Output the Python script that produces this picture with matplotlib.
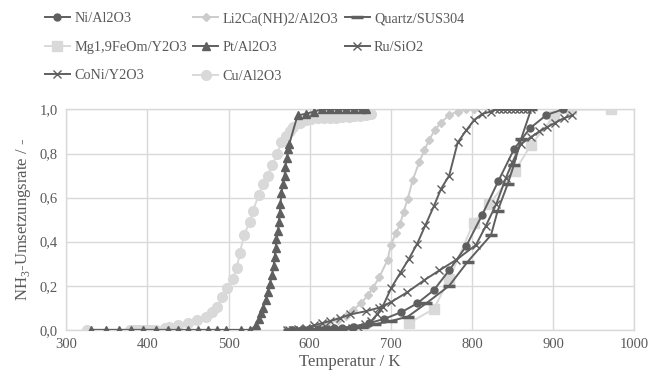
import matplotlib
matplotlib.use("Agg")
import matplotlib.pyplot as plt
from matplotlib.ticker import FuncFormatter, MultipleLocator

plt.rcParams['font.family'] = ['Liberation Serif', 'DejaVu Serif']
plt.rcParams['mathtext.fontset'] = 'custom'
plt.rcParams['mathtext.rm'] = 'Liberation Serif'

# ---- data ----
ni_T = [578, 590, 600, 610, 620, 630, 640, 653, 673, 692, 713, 732.5, 753, 772, 793, 812.5, 832.6, 852, 871.7, 892, 912]
ni_v = [0, 0, 0, 0.005, 0.005, 0.01, 0.01, 0.015, 0.03, 0.05, 0.08, 0.12, 0.18, 0.27, 0.38, 0.52, 0.675, 0.82, 0.915, 0.975, 1.0]

li_T = [575, 590, 605, 620, 635, 645, 653, 663.5, 671.7, 678, 686, 696, 700, 706.6, 711.6, 715.7, 721, 727, 735, 741.5, 747, 754, 762, 772, 782.5, 793, 803]
li_v = [0, 0.005, 0.01, 0.025, 0.045, 0.065, 0.09, 0.12, 0.158, 0.19, 0.24, 0.317, 0.385, 0.44, 0.48, 0.535, 0.595, 0.68, 0.76, 0.815, 0.86, 0.905, 0.94, 0.975, 0.99, 1.0, 1.0]

qz_T = [575, 590, 605, 620, 635, 650, 665, 680, 700, 721, 743.6, 772, 795, 823.6, 831.8, 844, 852, 860.6, 873]
qz_v = [0, 0, 0, 0, 0.005, 0.01, 0.015, 0.025, 0.04, 0.06, 0.12, 0.2, 0.31, 0.43, 0.54, 0.66, 0.75, 0.865, 1.0]

mg_T = [722, 753, 772, 802, 821.5, 853, 873, 901.6, 922, 971.4]
mg_v = [0.03, 0.095, 0.23, 0.485, 0.57, 0.72, 0.84, 0.97, 1.0, 1.0]

pt_T = [330, 349, 365, 380, 395, 410, 425, 437, 450, 462, 474, 486, 497, 515, 527,
        534, 538, 540, 542, 545.7, 548.5, 551, 553.5, 555.5, 556.8, 558, 559, 561, 562, 563, 564, 565,
        567, 569, 570, 572, 573.6, 575, 585, 595, 605, 615, 625, 635, 645, 655, 665, 670]
pt_v = [0, 0, 0, 0, 0, 0, 0, 0, 0, 0, 0, 0, 0, 0, 0,
        0.02, 0.05, 0.075, 0.1, 0.135, 0.17, 0.21, 0.25, 0.29, 0.33, 0.37, 0.41, 0.45, 0.49, 0.53, 0.57, 0.62,
        0.66, 0.70, 0.74, 0.78, 0.82, 0.845, 0.973, 0.98, 0.99, 1.0, 1.0, 1.0, 1.0, 1.0, 1.0, 1.0]

ru_T = [572, 580, 588, 596, 604, 612, 620, 628, 636, 644, 652, 660, 668, 676, 683, 690, 700.5, 712, 722,
        732.5, 742.7, 753, 762, 772, 782.5, 793, 803, 813, 823, 828, 833, 838, 843, 848, 853, 858, 863, 868, 873]
ru_v = [0, 0, 0, 0, 0, 0, 0, 0.005, 0.005, 0.005, 0.01, 0.015, 0.025, 0.04, 0.07, 0.105, 0.19, 0.26, 0.32,
        0.39, 0.475, 0.56, 0.64, 0.70, 0.85, 0.905, 0.953, 0.98, 0.99, 1, 1, 1, 1, 1, 1, 1, 1, 1, 1]

coni_T = [575, 585, 595, 605, 615, 625, 637, 650, 670, 685, 700, 720, 741.5, 760, 780.5, 805, 817, 830, 842,
          850, 860.6, 873, 883, 893, 903, 913, 924]
coni_v = [0, 0.005, 0.01, 0.02, 0.03, 0.04, 0.053, 0.07, 0.085, 0.1, 0.125, 0.17, 0.226, 0.27, 0.317, 0.385,
          0.47, 0.57, 0.69, 0.76, 0.845, 0.875, 0.9, 0.92, 0.94, 0.96, 0.973]

cu_T = [325, 378, 382, 386, 390, 394, 398, 402, 406, 410, 421, 426, 437, 450, 461, 472, 480, 486, 492, 498,
        505, 510, 514, 519, 526, 530, 537, 542, 548, 554, 560, 565, 571, 576, 580, 588, 595, 602, 610, 618,
        625, 632, 640, 648, 655, 662, 670, 676]
cu_v = [0, 0, 0, 0, 0, 0, 0, 0, 0, 0, 0.01, 0.015, 0.02, 0.03, 0.045, 0.06, 0.08, 0.105, 0.15, 0.19,
        0.23, 0.28, 0.35, 0.43, 0.49, 0.54, 0.61, 0.66, 0.70, 0.75, 0.80, 0.85, 0.88, 0.90, 0.92, 0.94,
        0.95, 0.955, 0.96, 0.96, 0.96, 0.96, 0.965, 0.965, 0.97, 0.97, 0.975, 0.98]

dark = '#5f5f5f'
light = '#d9d9d9'
mid = '#cccccc'
txt = '#595959'

fig = plt.figure(figsize=(6.51, 3.80), dpi=100)
ax = fig.add_axes([0.102, 0.132, 0.872, 0.580])

h = {}
h['Ni'], = ax.plot(ni_T, ni_v, color=dark, lw=1.4, marker='o', ms=5, label='Ni/Al2O3', zorder=4)
h['Li'], = ax.plot(li_T, li_v, color=mid, lw=1.4, marker='D', ms=4.5, label='Li2Ca(NH)2/Al2O3', zorder=3)
h['Qz'], = ax.plot(qz_T, qz_v, color=dark, lw=1.4, marker='_', ms=9, mew=2.5, label='Quartz/SUS304', zorder=4)
h['Mg'], = ax.plot(mg_T, mg_v, color=light, lw=1.4, marker='s', ms=6.5, label='Mg1,9FeOm/Y2O3', zorder=2)
h['Pt'], = ax.plot(pt_T, pt_v, color=dark, lw=1.4, marker='^', ms=5.5, label='Pt/Al2O3', zorder=4)
h['Ru'], = ax.plot(ru_T, ru_v, color=dark, lw=1.4, marker='x', ms=5.5, mew=1.0, label='Ru/SiO2', zorder=4)
h['Co'], = ax.plot(coni_T, coni_v, color=dark, lw=1.4, marker='x', ms=6, mew=1.0, label='CoNi/Y2O3', zorder=4)
h['Cu'], = ax.plot(cu_T, cu_v, color=light, lw=1.4, marker='o', ms=7, label='Cu/Al2O3', zorder=2)

ax.set_xlim(300, 1000)
ax.set_ylim(0, 1.0)
ax.xaxis.set_major_locator(MultipleLocator(100))
ax.yaxis.set_major_locator(MultipleLocator(0.2))
ax.yaxis.set_major_formatter(FuncFormatter(lambda v, p: f"{v:.1f}".replace('.', ',')))
ax.grid(True, color=light, lw=1.0)
ax.set_axisbelow(True)
for s in ax.spines.values():
    s.set_color(light)
    s.set_linewidth(1.0)
ax.tick_params(length=0, labelsize=10.5, colors=txt, pad=6)
ax.set_xlabel('Temperatur / K', fontsize=12, color=txt, labelpad=2)
ax.set_ylabel('NH$_3$-Umsetzungsrate / -', fontsize=12, color=txt, labelpad=5)

order = ['Ni', 'Mg', 'Co', 'Li', 'Pt', 'Cu', 'Qz', 'Ru']
leg = fig.legend([h[k] for k in order], [h[k].get_label() for k in order], ncol=3,
                 loc='upper left', bbox_to_anchor=(0.069, 0.968), frameon=False, fontsize=10.3,
                 borderpad=0, borderaxespad=0,
                 handlelength=1.75, handletextpad=0.3, columnspacing=0.45, labelspacing=1.08)
for t in leg.get_texts():
    t.set_color(txt)

fig.savefig('out.png', dpi=100)
